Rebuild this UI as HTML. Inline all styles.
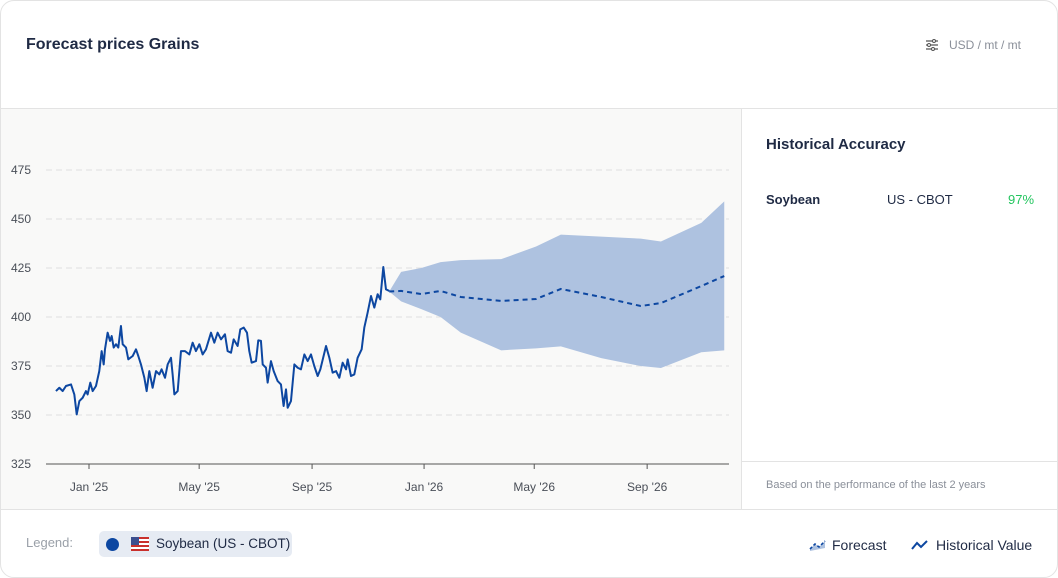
<!DOCTYPE html>
<html><head><meta charset="utf-8"><style>
body{margin:0;width:1058px;height:578px;background:#fff;font-family:"Liberation Sans",sans-serif;overflow:hidden}
.card{position:absolute;left:0;top:0;width:1056px;height:576px;border:1px solid #e3e3e3;border-radius:14px;overflow:hidden;background:#fff}
.title{position:absolute;left:25px;top:35px;font-size:16px;color:#1f2a44;font-weight:bold}
.unit{position:absolute;right:36px;top:37px;font-size:12px;color:#8a8f99}
.hdr-line{position:absolute;left:0;top:107px;width:1058px;height:1px;background:#e3e3e3}
.plot{position:absolute;left:0;top:108px;width:740px;height:400px;background:#f9f9f8}
.side{position:absolute;left:740px;top:108px;width:1px;height:400px;background:#e3e3e3}
.foot-line{position:absolute;left:0;top:508px;width:1058px;height:1px;background:#e3e3e3}
.ha{position:absolute;left:765px;top:135px;font-size:15px;color:#1f2a44;font-weight:bold}
.row{position:absolute;top:191px;font-size:13px;color:#1f2a44}
.note{position:absolute;left:765px;top:478px;font-size:11px;color:#8a8f99}
.sideline{position:absolute;left:741px;top:460px;width:316px;height:1px;background:#e3e3e3}
</style></head><body>
<div class="card">
<div class="title">Forecast prices Grains</div>
<div class="unit"><svg width="14" height="12" style="vertical-align:-2px;margin-right:10px" viewBox="0 0 14 12"><g stroke="#555" stroke-width="1.3"><line x1="1" y1="2" x2="13" y2="2"/><line x1="1" y1="6" x2="13" y2="6"/><line x1="1" y1="10" x2="13" y2="10"/></g><g fill="#fff" stroke="#555"><circle cx="9" cy="2" r="1.5"/><circle cx="4" cy="6" r="1.5"/><circle cx="8" cy="10" r="1.5"/></g></svg>USD / mt / mt</div>
<div class="hdr-line"></div>
<div class="plot"></div>
<div class="side"></div>
<div class="ha">Historical Accuracy</div>
<div class="row" style="left:765px;font-weight:bold">Soybean</div>
<div class="row" style="left:886px">US - CBOT</div>
<div class="row" style="left:1007px;color:#22c55e">97%</div>
<div class="sideline"></div>
<div class="note">Based on the performance of the last 2 years</div>
<div class="foot-line"></div>
<div style="position:absolute;left:25px;top:534px;font-size:13px;color:#9aa0a8">Legend:</div>
<div style="position:absolute;left:98px;top:530px;width:193px;height:26px;background:#e6ebf3;border-radius:5px;font-size:13.5px;color:#1f2a44;white-space:nowrap">
<span style="position:absolute;left:7px;top:7px;width:13px;height:13px;border-radius:50%;background:#0d47a1"></span>
<svg style="position:absolute;left:32px;top:6px" width="18" height="14"><rect width="18" height="14" fill="#fff"/><g fill="#c9302c"><rect y="0" width="18" height="2"/><rect y="4" width="18" height="2"/><rect y="8" width="18" height="2"/><rect y="12" width="18" height="2"/></g><rect width="8" height="8" fill="#3c4f8f"/></svg>
<span style="position:absolute;left:57px;top:5px">Soybean (US - CBOT)</span></div>
<div style="position:absolute;left:808px;top:536px;font-size:14px;color:#1f2a44;white-space:nowrap"><svg width="18" height="12" style="vertical-align:-1px;margin-right:5px"><path d="M1 10 L6 5 L10 8 L16 2 L16 9 L1 12Z" fill="#aec2e0"/><path d="M1 10 L6 5 L10 8 L16 2" stroke="#0d47a1" stroke-width="1.6" fill="none" stroke-dasharray="3 2"/></svg>Forecast</div>
<div style="position:absolute;left:910px;top:536px;font-size:14px;color:#1f2a44;white-space:nowrap"><svg width="18" height="12" style="vertical-align:-1px;margin-right:7px"><path d="M1 10 L6 4 L10 8 L16 2" stroke="#0d47a1" stroke-width="2" fill="none"/></svg>Historical Value</div>
<svg id="chart" width="740" height="400" style="position:absolute;left:0;top:108px"></svg>
</div>
<script>
const yTicks=[325,350,375,400,425,450,475];
const xTickLabels=["Jan '25","May '25","Sep '25","Jan '26","May '26","Sep '26"];
const xTickDays=[0,120,243,365,485,608];
const histDays=[-36,-32.3,-28.7,-25.1,-19.6,-16,-13.4,-10.5,-6.9,-3.3,-1.5,1.4,4,7.6,11.2,13.8,16,17.4,20.3,22.9,24.7,26.9,29.4,31.9,34.8,36.7,40.3,42.8,47.6,51.2,53.7,56.6,60.3,62.8,65.7,69.3,73,76.6,79.1,82.8,85.7,89.3,91.1,93,96.6,100.2,104.6,109.3,112.9,116.5,120.2,123.8,127.4,132.9,136.5,140.1,143.8,148.1,151,154.7,157.6,161.9,164.8,168.5,172.1,174.6,177.2,181.9,184.4,187.3,189.2,192.8,194.6,198.2,201.2,205.5,209.1,212,214.6,216.4,220,223.7,227.3,230.9,234.6,238.2,241.8,245.4,249.1,252,258.2,261.8,265.4,269.1,272.7,276.3,280,281.8,285.4,289,292.6,297,299.9,303.5,307.2,310.8,314.4,317.3,320.6,323.5,327.1];
const histValues=[362.2,363.9,362.2,364.8,365.6,360.5,350.3,357.1,358.8,362.2,360.5,366.5,362.2,364.8,372.4,382.6,375.8,383.5,392,387.8,390.3,384.4,386.1,384.4,395.4,386.1,384.4,378.4,380.1,383.5,380.1,375.8,369,362.2,372.4,363.9,372.4,370.7,373.3,369,375.8,379.2,370.7,360.5,362.2,382.6,382.6,380.9,386.9,382.6,386.1,380.9,383.5,392,386.9,392,388.6,391.2,382.6,381.8,388.6,385.2,393.7,394.6,392,382.6,376.7,377.5,388.1,387.8,375.8,374.1,366.5,377.5,372.4,367.3,365.6,354.6,363.1,353.7,357.1,375.8,374.1,373.3,380.9,377.5,380.9,375,369.9,373.3,385.2,379.2,371.6,372.4,369,376.7,373.3,378.4,369.9,370.7,379.2,383.5,394.6,402.2,410.7,404.8,411.6,409,425.5,414.1,413.3];
const fcDays=[327,340,362,383,405,449,487,514,558,601,623,667,692];
const fcValues=[413,413.3,411.7,413.3,410.2,408.2,409.2,414.3,410.2,405.6,407.1,415.8,420.9];
const fcUpper=[413,423,425,428,429,429.5,436,442,441,440,438.5,448,459];
const fcLower=[413,408,404,400,392,383,384,385,379,375,374,382,383];
const NS="http://www.w3.org/2000/svg";
const svg=document.getElementById('chart');
const X=d=>88+d*0.918;
const Y=v=>(463-108)-(v-325)*1.96;
function mk(t,a){const e=document.createElementNS(NS,t);for(const k in a)e.setAttribute(k,a[k]);svg.appendChild(e);return e;}
yTicks.forEach(v=>{
 if(v>325){const l=mk('line',{x1:45,x2:728,y1:Y(v),y2:Y(v),stroke:'#e0e0e0','stroke-dasharray':'6 4'});
 
 }
 const t=mk('text',{x:10,y:Y(v)+4,'font-size':12,fill:'#4a4f58'});t.textContent=v;
 
 
});
const ax=mk('line',{x1:45,x2:728,y1:Y(325),y2:Y(325),stroke:'#555'});


xTickDays.forEach((d,i)=>{
 mk('line',{x1:X(d),x2:X(d),y1:Y(325),y2:Y(325)+5,stroke:'#555'});
 const t=mk('text',{x:X(d),y:Y(325)+27,'font-size':12,fill:'#4a4f58','text-anchor':'middle'});t.textContent=xTickLabels[i];
 
 
});
let band=fcDays.map((d,i)=>X(d)+','+Y(fcUpper[i])).join(' ')+' '+fcDays.map((d,i)=>X(d)+','+Y(fcLower[i])).reverse().join(' ');
const b=mk('polygon',{points:band,fill:'#aec2e0'});


const f=mk('polyline',{points:fcDays.map((d,i)=>X(d)+','+Y(fcValues[i])).join(' '),fill:'none',stroke:'#0d47a1','stroke-width':2,'stroke-dasharray':'5 4'});


const h=mk('polyline',{points:histDays.map((d,i)=>X(d)+','+Y(histValues[i])).join(' '),fill:'none',stroke:'#0d47a1','stroke-width':2,'stroke-linejoin':'round'});


</script>
</body></html>
